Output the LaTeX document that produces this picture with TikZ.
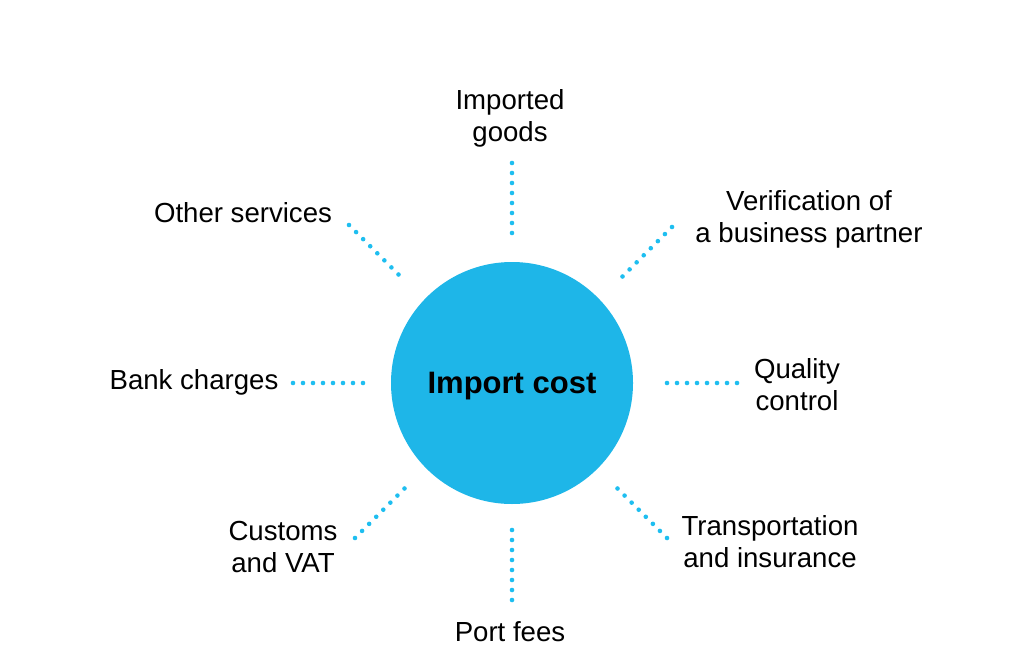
\documentclass[tikz,border=0pt]{standalone}
\usepackage{fontspec}
\setmainfont{Liberation Sans}
\definecolor{hub}{RGB}{30,182,232}
\definecolor{dotc}{RGB}{30,190,240}
\begin{document}
\begin{tikzpicture}[x=1pt,y=-1pt,
  lbl/.style={align=center,inner sep=0pt,font=\fontsize{27.6}{32}\selectfont},
  dots/.style={draw=dotc,line width=4.6pt,line cap=round,dash pattern=on 0pt off 10pt}]
\useasboundingbox (0,0) rectangle (1024,663);
\node[circle,fill=hub,minimum size=242pt,inner sep=0pt] (c) at (512,383) {};
\node[font=\bfseries\fontsize{31}{36}\selectfont,inner sep=0pt] (ct) at (512,386.5) {Import cost};
\node[lbl] (t1) at (510,118) {Imported\\goods};
\node[lbl] (t2) at (243,212.5) {Other services};
\node[lbl] (t3) at (809,219.5) {Verification of\\a business partner};
\node[lbl] (t4) at (194,382) {Bank charges};
\node[lbl] (t5) at (797,385) {Quality\\control};
\node[lbl] (t6) at (283,547) {Customs\\and VAT};
\node[lbl] (t7) at (770,541.5) {Transportation\\and insurance};
\node[lbl] (t8) at (510,632) {Port fees};
\coordinate (a1) at (512,163); \coordinate (b1) at (512,233.6);
\coordinate (a2) at (349,225); \coordinate (b2) at (399,275);
\coordinate (a3) at (672,227); \coordinate (b3) at (622,277);
\coordinate (a4) at (293,383); \coordinate (b4) at (363.6,383);
\coordinate (a5) at (737,383); \coordinate (b5) at (666.4,383);
\coordinate (a6) at (355,538); \coordinate (b6) at (405,488);
\coordinate (a7) at (667,538); \coordinate (b7) at (617,488);
\coordinate (a8) at (512,600); \coordinate (b8) at (512,529.4);
\foreach \i in {1,...,8} \draw[dots] (a\i) -- (b\i);
\end{tikzpicture}
\end{document}
